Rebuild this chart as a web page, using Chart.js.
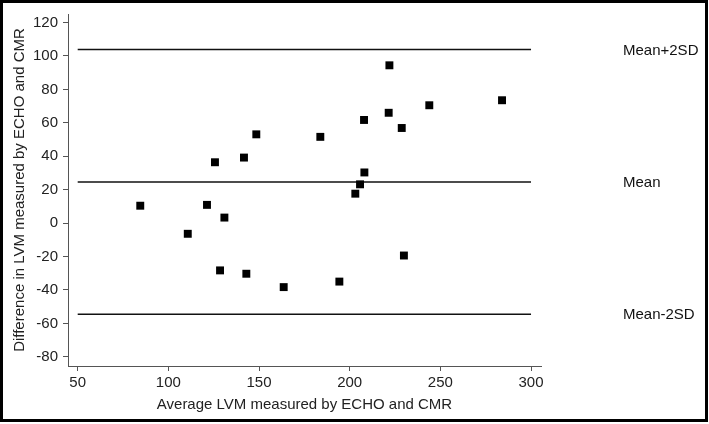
<!DOCTYPE html>
<html>
<head>
<meta charset="utf-8">
<script src="https://cdn.jsdelivr.net/npm/chart.js@4/dist/chart.umd.min.js"></script>
<style>
  html, body { margin: 0; padding: 0; background: #fff; }
  #wrap { width: 709px; height: 424px; }
</style>
</head>
<body>
<div id="wrap"><canvas id="myChart" width="709" height="424"></canvas></div>
<script>
// Bland-Altman points: average LVM (x) vs difference (y)
const avgLvm = [84.5, 110.7, 121.3, 125.7, 128.5, 130.9, 141.7, 143.0, 148.5, 163.6, 183.8,
  194.3, 203.1, 205.7, 208.1, 207.9, 221.9, 221.5, 228.7, 229.9, 243.9, 284.0];
const diffLvm = [10.4, -6.4, 10.9, 36.4, -28.3, 3.3, 39.2, -30.3, 53.1, -38.3, 51.6,
  -35.0, 17.6, 23.2, 30.3, 61.7, 94.4, 66.0, 56.9, -19.4, 70.5, 73.5];

const limitNames = ["Mean+2SD", "Mean", "Mean-2SD"];
const limitValues = [103.8, 24.6, -54.6];
const limitFrom = 50;
const limitTo = 300;

const xTicks = [50, 100, 150, 200, 250, 300];
const yTicks = [-80, -60, -40, -20, 0, 20, 40, 60, 80, 100, 120];

const FONT = "'Liberation Sans', Arial, sans-serif";
const AXIS_GREY = "#555";

const points = avgLvm.map((x, i) => ({ x: x, y: diffLvm[i] }));

const limitSets = limitValues.map((v, i) => ({
  label: limitNames[i],
  data: [{ x: limitFrom, y: v }, { x: limitTo, y: v }],
  showLine: true,
  borderColor: "#111",
  borderWidth: 1.5,
  pointRadius: 0,
}));

const limitLabels = {
  id: "limitLabels",
  afterDatasetsDraw(chart) {
    const ctx = chart.ctx;
    const y = chart.scales.y;
    ctx.save();
    ctx.fillStyle = "#111";
    ctx.font = "15px " + FONT;
    ctx.textAlign = "left";
    ctx.textBaseline = "middle";
    limitValues.forEach((v, i) => {
      ctx.fillText(limitNames[i], 623, y.getPixelForValue(v) + 1);
    });
    ctx.restore();
  },
};

const frame = {
  id: "frame",
  afterDraw(chart) {
    const ctx = chart.ctx;
    ctx.save();
    ctx.strokeStyle = "#000";
    ctx.lineWidth = 3;
    ctx.strokeRect(1.5, 1.5, 705, 419);
    ctx.restore();
  },
};

function keepTicks(list) {
  return (scale) => {
    scale.ticks = list.map((v) => ({ value: v }));
  };
}

new Chart(document.getElementById("myChart"), {
  type: "scatter",
  data: {
    datasets: [
      {
        label: "points",
        data: points,
        pointStyle: "rect",
        pointRadius: 5.6,
        backgroundColor: "#000",
        borderWidth: 0,
      },
      ...limitSets,
    ],
  },
  options: {
    responsive: false,
    animation: false,
    events: [],
    layout: { padding: { left: 0, top: 10, right: 168, bottom: 0 } },
    plugins: {
      legend: { display: false },
      tooltip: { enabled: false },
    },
    scales: {
      x: {
        type: "linear",
        min: 44.65,
        max: 305.5,
        afterBuildTicks: keepTicks(xTicks),
        afterFit: (s) => { s.height = 58; },
        grid: { drawOnChartArea: false, drawTicks: true, tickLength: 5, color: AXIS_GREY },
        border: { display: true, color: AXIS_GREY, width: 1 },
        ticks: { color: "#222", font: { family: FONT, size: 15 }, padding: 3, maxRotation: 0 },
        title: {
          display: true,
          text: "Average LVM measured by ECHO and CMR",
          color: "#222",
          font: { family: FONT, size: 15 },
          padding: { top: 0, bottom: 10 },
        },
      },
      y: {
        type: "linear",
        min: -85.5,
        max: 125.1,
        afterBuildTicks: keepTicks(yTicks),
        afterFit: (s) => { s.width = 68; },
        grid: { drawOnChartArea: false, drawTicks: true, tickLength: 5, color: AXIS_GREY },
        border: { display: true, color: AXIS_GREY, width: 1 },
        ticks: { color: "#222", font: { family: FONT, size: 15 }, padding: 5 },
        title: {
          display: true,
          text: "Difference in LVM measured by ECHO and CMR",
          color: "#222",
          font: { family: FONT, size: 15 },
          padding: { top: 11, bottom: 0 },
        },
      },
    },
  },
  plugins: [limitLabels, frame],
});
</script>
</body>
</html>
